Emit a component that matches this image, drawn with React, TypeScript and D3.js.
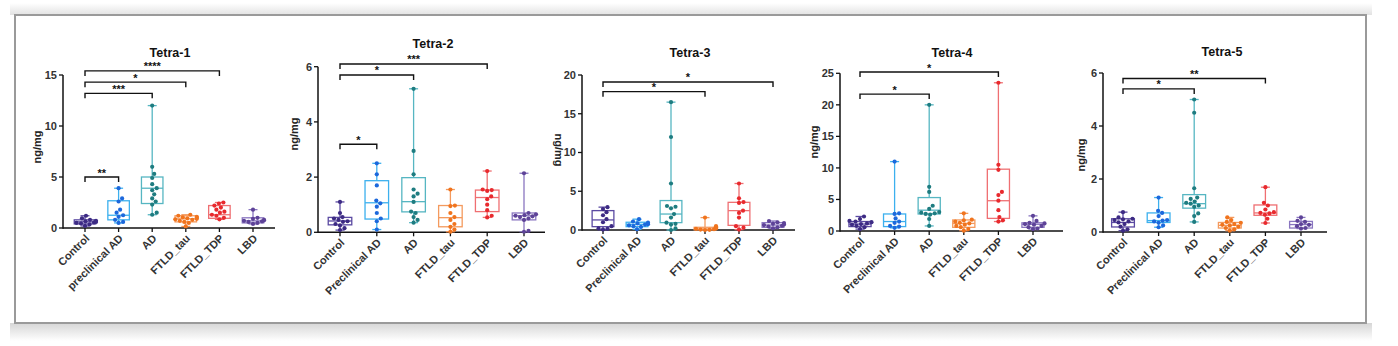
import React from "react";
import * as d3 from "d3";

const W = 1398;
const H = 346;

// ---------- data ----------
const titles = ["Tetra-1", "Tetra-2", "Tetra-3", "Tetra-4", "Tetra-5"];
const groupsTetra1 = ["Control", "preclinical AD", "AD", "FTLD_tau", "FTLD_TDP", "LBD"];
const groupsOther = ["Control", "Preclinical AD", "AD", "FTLD_tau", "FTLD_TDP", "LBD"];
const yLabel = "ng/mg";

const yTicks1 = [0, 5, 10, 15];
const yTicks2 = [0, 2, 4, 6];
const yTicks3 = [0, 5, 10, 15, 20];
const yTicks4 = [0, 5, 10, 15, 20, 25];
const yTicks5 = [0, 2, 4, 6];

// points per group (Control, Preclinical AD, AD, FTLD_tau, FTLD_TDP, LBD)
const tetra1Points = [
  [0.2, 0.35, 0.45, 0.5, 0.55, 0.6, 0.65, 0.7, 0.8, 0.95, 1.2],
  [3.9, 2.9, 2.6, 1.8, 1.5, 1.25, 1.1, 0.8, 0.6, 0.5],
  [12.0, 6.0, 5.3, 4.9, 4.3, 3.9, 3.7, 3.3, 2.9, 2.6, 2.3, 1.5, 1.3],
  [1.3, 1.2, 1.1, 1.05, 1.0, 0.95, 0.9, 0.85, 0.8, 0.7, 0.6, 0.5, 0.15],
  [2.5, 2.4, 2.2, 2.0, 1.8, 1.6, 1.5, 1.3, 1.2, 1.0, 0.85],
  [1.8, 1.0, 0.9, 0.8, 0.75, 0.7, 0.65, 0.6, 0.5, 0.4],
];
// [min, q1, median, q3, max]
const tetra1Box = [
  [0.2, 0.4, 0.6, 0.8, 1.2],
  [0.5, 0.8, 1.25, 2.67, 3.9],
  [1.3, 2.4, 3.9, 5.0, 12.0],
  [0.15, 0.6, 0.9, 1.2, 1.3],
  [0.85, 0.95, 1.3, 2.2, 2.5],
  [0.4, 0.5, 0.7, 1.0, 1.8],
];
const tetra1Sig = [
  { target: 1, level: 5.0, label: "**" },
  { target: 2, level: 13.2, label: "***" },
  { target: 3, level: 14.3, label: "*" },
  { target: 4, level: 15.4, label: "****" },
];

const tetra2Points = [
  [1.1, 0.7, 0.55, 0.5, 0.45, 0.4, 0.38, 0.3, 0.25, 0.15, 0.08],
  [2.5, 2.1, 1.7, 1.15, 1.05, 0.93, 0.7, 0.5, 0.4, 0.1],
  [5.2, 2.95, 2.1, 1.55, 1.4, 1.3, 1.1, 0.75, 0.7, 0.55, 0.45, 0.35],
  [1.55, 0.97, 0.95, 0.7, 0.55, 0.45, 0.3, 0.2, 0.1, 0.02],
  [2.22, 1.55, 1.53, 1.5, 1.3, 1.2, 1.0, 0.8, 0.6, 0.54],
  [2.14, 0.7, 0.65, 0.62, 0.6, 0.58, 0.55, 0.5, 0.45, 0.05, 0.02],
];
const tetra2Box = [
  [0.08, 0.27, 0.41, 0.54, 1.1],
  [0.1, 0.48, 1.07, 1.87, 2.5],
  [0.35, 0.74, 1.11, 1.98, 5.2],
  [0.02, 0.2, 0.53, 0.97, 1.55],
  [0.54, 0.75, 1.26, 1.53, 2.22],
  [0.02, 0.45, 0.6, 0.7, 2.14],
];
const tetra2Sig = [
  { target: 1, level: 3.19, label: "*" },
  { target: 2, level: 5.7, label: "*" },
  { target: 4, level: 6.1, label: "***" },
];

const tetra3Points = [
  [2.95, 2.7, 2.3, 1.9, 1.4, 1.0, 0.5, 0.2, 0.15, 0.05],
  [1.4, 1.1, 0.95, 0.85, 0.75, 0.7, 0.6, 0.5, 0.4, 0.1],
  [16.5, 12.0, 6.0, 3.1, 3.0, 2.8, 2.06, 1.6, 0.95, 0.8, 0.7, 0.2, 0.0],
  [1.6, 0.5, 0.35, 0.3, 0.2, 0.15, 0.1, 0.05, 0.02, 0.0],
  [6.0, 4.1, 3.6, 3.5, 2.5, 2.2, 1.6, 0.5, 0.3, 0.05],
  [1.16, 1.0, 0.9, 0.8, 0.7, 0.64, 0.55, 0.45, 0.35, 0.2],
];
const tetra3Box = [
  [0.05, 0.43, 1.3, 2.5, 2.95],
  [0.1, 0.43, 0.73, 1.0, 1.4],
  [0.0, 0.95, 2.06, 3.8, 16.5],
  [0.0, 0.02, 0.13, 0.35, 1.6],
  [0.05, 0.6, 2.5, 3.57, 6.0],
  [0.2, 0.34, 0.64, 0.95, 1.16],
];
const tetra3Sig = [
  { target: 3, level: 17.85, label: "*" },
  { target: 5, level: 19.1, label: "*" },
];

const tetra4Points = [
  [2.3, 1.9, 1.6, 1.5, 1.4, 1.2, 1.1, 1.0, 0.8, 0.6, 0.3],
  [11.0, 2.8, 2.7, 2.0, 1.5, 1.3, 0.8, 0.7, 0.5],
  [20.0, 7.0, 6.2, 4.0, 3.5, 3.0, 2.9, 2.8, 2.7, 2.6, 1.9, 0.8],
  [2.8, 1.8, 1.7, 1.5, 1.3, 1.2, 1.0, 0.8, 0.6, 0.3, 0.05],
  [23.5, 10.5, 9.7, 6.2, 5.7, 4.8, 3.3, 2.2, 1.7, 1.5],
  [2.4, 1.6, 1.3, 1.2, 1.1, 1.0, 0.8, 0.6, 0.4, 0.3],
];
const tetra4Box = [
  [0.3, 0.7, 1.1, 1.5, 2.3],
  [0.5, 0.7, 1.5, 2.7, 11.0],
  [0.8, 2.7, 3.3, 5.3, 20.0],
  [0.05, 0.58, 1.2, 1.75, 2.8],
  [1.5, 2.0, 4.8, 9.8, 23.5],
  [0.3, 0.58, 1.06, 1.3, 2.4],
];
const tetra4Sig = [
  { target: 2, level: 21.7, label: "*" },
  { target: 4, level: 25.2, label: "*" },
];

const tetra5Points = [
  [0.75, 0.55, 0.5, 0.48, 0.45, 0.4, 0.36, 0.3, 0.2, 0.1, 0.05],
  [1.3, 0.8, 0.72, 0.6, 0.45, 0.43, 0.4, 0.35, 0.25, 0.18],
  [5.0, 4.5, 1.65, 1.3, 1.25, 1.15, 1.1, 1.07, 1.0, 0.95, 0.7, 0.6, 0.38],
  [0.55, 0.45, 0.38, 0.35, 0.3, 0.27, 0.25, 0.2, 0.15, 0.1, 0.05],
  [1.69, 1.1, 1.0, 0.85, 0.75, 0.72, 0.7, 0.65, 0.5, 0.34],
  [0.55, 0.42, 0.38, 0.3, 0.27, 0.22, 0.15, 0.13],
];
const tetra5Box = [
  [0.05, 0.19, 0.36, 0.5, 0.75],
  [0.18, 0.36, 0.43, 0.72, 1.3],
  [0.38, 0.9, 1.07, 1.41, 5.0],
  [0.05, 0.15, 0.25, 0.36, 0.55],
  [0.34, 0.63, 0.72, 1.02, 1.69],
  [0.13, 0.15, 0.28, 0.4, 0.55],
];
const tetra5Sig = [
  { target: 2, level: 5.4, label: "*" },
  { target: 4, level: 5.79, label: "**" },
];

// ---------- styles ----------
const dotColors = ["#3d2b84", "#1c68dc", "#1e7c80", "#f0741e", "#e82a2e", "#5e4398"];
const boxColors = ["#5b4aa2", "#3cb0ee", "#56b6c2", "#f49a5e", "#ef6f72", "#8a76c0"];
const FONT = "'Liberation Sans', Arial, Helvetica, sans-serif";

// ---------- layout (pixel geometry of each panel) ----------
const layout = [
  { axisX: 63, firstX: 85, lastX: 253, endX: 275, topY: 75, zeroY: 228, titleX: 170, titleY: 57, labX: 38, labY: 147, rot: -90 },
  { axisX: 318, firstX: 340, lastX: 524, endX: 545, topY: 66.7, zeroY: 232.3, titleX: 433, titleY: 47.5, labX: 295, labY: 134, rot: -90 },
  { axisX: 582, firstX: 603, lastX: 773, endX: 795, topY: 75, zeroY: 230, titleX: 690, titleY: 57, labX: 558, labY: 150, rot: 90 },
  { axisX: 840, firstX: 860, lastX: 1033, endX: 1063, topY: 73.3, zeroY: 231, titleX: 952, titleY: 57, labX: 815, labY: 142, rot: -90 },
  { axisX: 1103, firstX: 1123, lastX: 1301, endX: 1327, topY: 73, zeroY: 232, titleX: 1222, titleY: 56, labX: 1082, labY: 155, rot: -90 },
];

const panels = [
  { title: titles[0], groups: groupsTetra1, ticks: yTicks1, points: tetra1Points, box: tetra1Box, sig: tetra1Sig },
  { title: titles[1], groups: groupsOther, ticks: yTicks2, points: tetra2Points, box: tetra2Box, sig: tetra2Sig },
  { title: titles[2], groups: groupsOther, ticks: yTicks3, points: tetra3Points, box: tetra3Box, sig: tetra3Sig },
  { title: titles[3], groups: groupsOther, ticks: yTicks4, points: tetra4Points, box: tetra4Box, sig: tetra4Sig },
  { title: titles[4], groups: groupsOther, ticks: yTicks5, points: tetra5Points, box: tetra5Box, sig: tetra5Sig },
];

// deterministic beeswarm offsets
function swarm(values: number[], y: (v: number) => number, r: number, maxHalf: number): number[] {
  const order = values.map((v, i) => i).sort((a, b) => values[a] - values[b]);
  const placed: { x: number; y: number }[] = [];
  const out = new Array(values.length).fill(0);
  const minD = 2 * r + 0.3;
  for (const i of order) {
    const py = y(values[i]);
    let chosen = 0;
    for (let k = 0; k < 200; k++) {
      const step = Math.ceil(k / 2) * 0.5;
      const cand = k % 2 === 1 ? step : -step;
      if (Math.abs(cand) > maxHalf) { chosen = cand; break; }
      const ok = placed.every((p) => Math.hypot(p.x - cand, p.y - py) >= minD);
      if (ok) { chosen = cand; break; }
    }
    placed.push({ x: chosen, y: py });
    out[i] = chosen;
  }
  return out;
}

function Panel({ p, L }: { p: any; L: any }) {
  const maxV = p.ticks[p.ticks.length - 1];
  const y = d3.scaleLinear().domain([0, maxV]).range([L.zeroY, L.topY]);
  const x = d3.scalePoint<number>().domain(d3.range(p.groups.length)).range([L.firstX, L.lastX]);
  const step = x.step();
  const boxW = step * 0.64;
  const capW = 4.5;
  const r = 2.1;
  return (
    <g>
      <text x={L.titleX} y={L.titleY} textAnchor="middle" fontFamily={FONT} fontWeight="bold" fontSize={12.5} fill="#111">
        {p.title}
      </text>
      <text
        transform={`translate(${L.labX},${L.labY}) rotate(${L.rot})`}
        textAnchor="middle"
        dominantBaseline="middle"
        fontFamily={FONT}
        fontWeight="bold"
        fontSize={11}
        fill="#222"
      >
        {yLabel}
      </text>
      {/* y axis */}
      <line x1={L.axisX} x2={L.axisX} y1={y(0) + 0.75} y2={y(maxV)} stroke="#111" strokeWidth={1.5} />
      {p.ticks.map((t: number) => (
        <g key={t}>
          <line x1={L.axisX - 4} x2={L.axisX} y1={y(t)} y2={y(t)} stroke="#111" strokeWidth={1.3} />
          <text x={L.axisX - 6} y={y(t)} dy="0.36em" textAnchor="end" fontFamily={FONT} fontWeight="bold" fontSize={11} fill="#333">
            {t}
          </text>
        </g>
      ))}
      {/* x axis */}
      <line x1={L.axisX} x2={L.endX} y1={y(0)} y2={y(0)} stroke="#111" strokeWidth={1.5} />
      {p.groups.map((g: string, i: number) => (
        <g key={g}>
          <line x1={x(i)} x2={x(i)} y1={y(0)} y2={y(0) + 4} stroke="#111" strokeWidth={1.3} />
          <text
            transform={`translate(${(x(i) as number) + 3},${y(0) + 9}) rotate(-45)`}
            textAnchor="end"
            dominantBaseline="middle"
            fontFamily={FONT}
            fontWeight="bold"
            fontSize={11}
            fill="#333"
          >
            {g}
          </text>
        </g>
      ))}
      {/* boxes */}
      {p.box.map((b: number[], i: number) => {
        const cx = x(i) as number;
        const c = boxColors[i];
        return (
          <g key={"b" + i} stroke={c} strokeWidth={1.3} fill="none">
            <line x1={cx} x2={cx} y1={y(b[0])} y2={y(b[1])} />
            <line x1={cx} x2={cx} y1={y(b[3])} y2={y(b[4])} />
            <line x1={cx - capW} x2={cx + capW} y1={y(b[0])} y2={y(b[0])} />
            <line x1={cx - capW} x2={cx + capW} y1={y(b[4])} y2={y(b[4])} />
            <rect x={cx - boxW / 2} y={y(b[3])} width={boxW} height={Math.max(0.5, y(b[1]) - y(b[3]))} fill="white" fillOpacity={0} />
            <line x1={cx - boxW / 2} x2={cx + boxW / 2} y1={y(b[2])} y2={y(b[2])} />
          </g>
        );
      })}
      {/* dots */}
      {p.points.map((vals: number[], i: number) => {
        const cx = x(i) as number;
        const offs = swarm(vals, y, r, boxW / 2);
        return (
          <g key={"d" + i} fill={dotColors[i]}>
            {vals.map((v: number, j: number) => (
              <circle key={j} cx={cx + offs[j]} cy={y(v)} r={r} />
            ))}
          </g>
        );
      })}
      {/* significance brackets */}
      {p.sig.map((s: any, k: number) => {
        const x0 = x(0) as number;
        const x1 = x(s.target) as number;
        const yy = y(s.level);
        return (
          <g key={"s" + k}>
            <path d={`M${x0},${yy + 5}V${yy}H${x1}V${yy + 5}`} fill="none" stroke="#111" strokeWidth={1.4} />
            <text x={(x0 + x1) / 2} y={yy - 0.5} textAnchor="middle" fontFamily={FONT} fontWeight="bold" fontSize={11} fill="#111">
              {s.label}
            </text>
          </g>
        );
      })}
    </g>
  );
}

export default function App() {
  return (
    <svg width={W} height={H} style={{ position: "absolute", left: 0, top: 0, background: "#fff" }}>
      <defs>
        <linearGradient id="shTop" x1="0" y1="0" x2="0" y2="1">
          <stop offset="0" stopColor="#ffffff" />
          <stop offset="1" stopColor="#e2e2e2" />
        </linearGradient>
        <linearGradient id="shBot" x1="0" y1="0" x2="0" y2="1">
          <stop offset="0" stopColor="#d6d6d6" />
          <stop offset="1" stopColor="#ffffff" />
        </linearGradient>
      </defs>
      <rect x={0} y={0} width={W} height={H} fill="#fff" />
      <rect x={10} y={3} width={1362} height={12} fill="url(#shTop)" />
      <rect x={10} y={323} width={1362} height={18} fill="url(#shBot)" />
      <rect x={15} y={15} width={1351} height={308} fill="#fff" stroke="#9a9a9a" strokeWidth={2} />
      {panels.map((p, i) => (
        <Panel key={i} p={p} L={layout[i]} />
      ))}
    </svg>
  );
}
